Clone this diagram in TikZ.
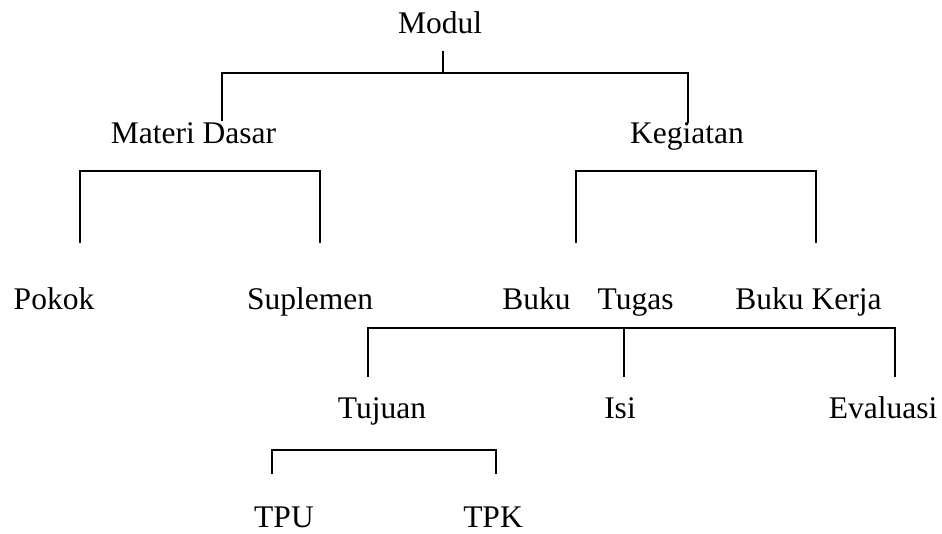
\documentclass[tikz,border=0pt]{standalone}
\usepackage{fontspec}
\setmainfont{Liberation Serif}
\begin{document}
\begin{tikzpicture}[x=1pt,y=-1pt,
  lbl/.style={anchor=base,inner sep=0pt,font=\fontsize{31.5}{36}\selectfont},
  link/.style={line width=1.6pt,line cap=rect}]
\useasboundingbox (0,0) rectangle (942,533);
% labels
\node[lbl] (modul) at (440,33) {Modul};
\node[lbl] (materi) at (193.5,143) {Materi Dasar};
\node[lbl] (kegiatan) at (687,143) {Kegiatan};
\node[lbl] (pokok) at (54,309) {Pokok};
\node[lbl] (suplemen) at (310,309) {Suplemen};
\node[lbl] (bukutugas) at (588,309) {Buku\hspace{27pt}Tugas};
\node[lbl] (bukukerja) at (808.5,309) {Buku Kerja};
\node[lbl] (tujuan) at (382,418) {Tujuan};
\node[lbl] (isi) at (620,418) {Isi};
\node[lbl] (evaluasi) at (883,418) {Evaluasi};
\node[lbl] (tpu) at (284,527) {TPU};
\node[lbl] (tpk) at (493,527) {TPK};
% bracket coordinates
\coordinate (t0) at (443,52);
\coordinate (t1) at (443,73);
\coordinate (tl) at (222,73);
\coordinate (tr) at (688,73);
\coordinate (tlb) at (222,120);
\coordinate (trb) at (688,122);
\coordinate (al) at (80,171);
\coordinate (ar) at (320,171);
\coordinate (alb) at (80,242);
\coordinate (arb) at (320,242);
\coordinate (bl) at (576,171);
\coordinate (br) at (816,171);
\coordinate (blb) at (576,242);
\coordinate (brb) at (816,242);
\coordinate (cl) at (368,328);
\coordinate (cm) at (624,328);
\coordinate (cr) at (895,328);
\coordinate (clb) at (368,376);
\coordinate (cmb) at (624,376);
\coordinate (crb) at (895,376);
\coordinate (dl) at (272,450);
\coordinate (dr) at (496,450);
\coordinate (dlb) at (272,473);
\coordinate (drb) at (496,473);
% connectors
\draw[link] (t0) -- (t1);
\draw[link] (tlb) -- (tl) -- (tr) -- (trb);
\draw[link] (alb) -- (al) -- (ar) -- (arb);
\draw[link] (blb) -- (bl) -- (br) -- (brb);
\draw[link] (clb) -- (cl) -- (cr) -- (crb);
\draw[link] (cm) -- (cmb);
\draw[link] (dlb) -- (dl) -- (dr) -- (drb);
\end{tikzpicture}
\end{document}
